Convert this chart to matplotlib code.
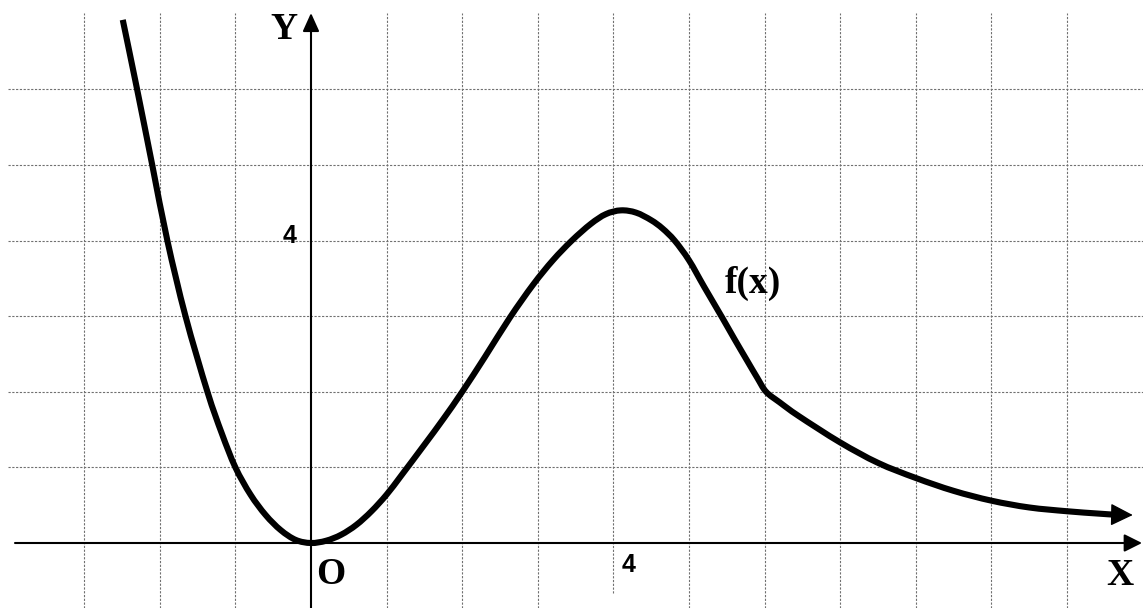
import matplotlib
matplotlib.use('Agg')
import matplotlib.pyplot as plt
from matplotlib.patches import FancyArrowPatch, PathPatch
from matplotlib.path import Path

# ---- data (units of the grid) ----
curve_x = [-2.49, -2.30, -2.10, -1.90, -1.66, -1.37, -1.18, -1.00, -0.80, -0.60,
           -0.40, -0.20, 0.00, 0.20, 0.40, 0.60, 0.80, 1.00, 1.20, 1.50,
           1.75, 2.00, 2.30, 2.63, 2.94, 3.20, 3.45, 3.70, 3.90, 4.10,
           4.30, 4.50, 4.65, 4.81, 5.00, 5.20, 5.44, 5.60, 5.77, 5.90,
           6.02, 6.20, 6.45, 7.00, 7.50, 8.00, 8.50, 9.00, 9.50, 10.00,
           10.40, 10.62, 10.87]
curve_y = [6.92, 6.00, 5.00, 4.00, 3.00, 2.00, 1.45, 1.00, 0.64, 0.37,
           0.17, 0.04, 0.00, 0.03, 0.11, 0.24, 0.42, 0.64, 0.90, 1.30,
           1.64, 2.00, 2.46, 2.98, 3.42, 3.74, 4.00, 4.22, 4.35, 4.40,
           4.37, 4.27, 4.16, 4.00, 3.74, 3.39, 2.98, 2.70, 2.41, 2.19,
           2.00, 1.86, 1.68, 1.33, 1.06, 0.86, 0.69, 0.56, 0.47, 0.42,
           0.39, 0.375, 0.37]
grid_x = [-3, -2, -1, 1, 2, 3, 4, 5, 6, 7, 8, 9, 10]
grid_y = [1, 2, 3, 4, 5, 6]
x_tick_value, x_tick_label = 4, "4"
y_tick_value, y_tick_label = 4, "4"
curve_label = "f(x)"

# ---- figure geometry ----
W, H = 1143, 608
U = 75.6           # pixels per unit
OX, OY = 311, 543  # origin in pixels

fig = plt.figure(figsize=(W / 100, H / 100), dpi=100)
ax = fig.add_axes([0, 0, 1, 1])
xmin, xmax = -OX / U, (W - OX) / U
ymin, ymax = -(H - OY) / U, OY / U
ax.set_xlim(xmin, xmax)
ax.set_ylim(ymin, ymax)
ax.axis('off')

gcol = '#707070'
gls = (0, (2.0, 1.4))
grid_top = (OY - 13) / U
for gx in grid_x:
    bottom = (OY - 593) / U if gx == x_tick_value else ymin
    ax.plot([gx, gx], [bottom, grid_top], color=gcol, lw=0.8, ls=gls, zorder=1)
for gy in grid_y:
    ax.plot([(8 - OX) / U, xmax], [gy, gy], color=gcol, lw=0.8, ls=gls, zorder=1)

# axes with arrows
ax.add_patch(FancyArrowPatch(((15 - OX) / U, 0), ((1142 - OX) / U, 0),
                             arrowstyle='-|>,head_length=0.6,head_width=0.3',
                             mutation_scale=18, lw=1.5, color='black',
                             shrinkA=0, shrinkB=0, zorder=3))
ax.add_patch(FancyArrowPatch((0, ymin), (0, (OY - 13) / U),
                             arrowstyle='-|>,head_length=0.62,head_width=0.28',
                             mutation_scale=18, lw=1.5, color='black',
                             shrinkA=0, shrinkB=0, zorder=3))

# curve: smooth path through the read points (Catmull-Rom -> cubic Bezier)
px, py = curve_x[:-1], curve_y[:-1]
n = len(px)
verts = [(px[0], py[0])]
codes = [Path.MOVETO]
for i in range(n - 1):
    i0, i3 = max(i - 1, 0), min(i + 2, n - 1)
    c1 = (px[i] + (px[i + 1] - px[i0]) / 6, py[i] + (py[i + 1] - py[i0]) / 6)
    c2 = (px[i + 1] - (px[i3] - px[i]) / 6, py[i + 1] - (py[i3] - py[i]) / 6)
    verts += [c1, c2, (px[i + 1], py[i + 1])]
    codes += [Path.CURVE4] * 3
ax.add_patch(PathPatch(Path(verts, codes), facecolor='none', edgecolor='black',
                       lw=4.4, joinstyle='round', capstyle='butt', zorder=4))
ax.add_patch(FancyArrowPatch((curve_x[-2], curve_y[-2]), (curve_x[-1], curve_y[-1]),
                             arrowstyle='-|>,head_length=0.7,head_width=0.35',
                             mutation_scale=20, lw=1, color='black',
                             shrinkA=0, shrinkB=0, zorder=4))

serif = dict(family='Liberation Serif', weight='bold', fontsize=27, color='black')
sans = dict(family='Liberation Sans', weight='bold', fontsize=18, color='black')
ax.text(-0.185, 6.667, 'Y', ha='right', va='baseline', **serif)
ax.text(10.70, -0.556, 'X', ha='center', va='baseline', **serif)
ax.text(0.265, -0.54, 'O', ha='center', va='baseline', **serif)
ax.text(5.47, 3.31, curve_label, ha='left', va='baseline', **serif)
ax.text(-0.278, y_tick_value - 0.03, y_tick_label, ha='center', va='baseline', **sans)
ax.text(x_tick_value + 0.20, -0.384, x_tick_label, ha='center', va='baseline', **sans)

fig.savefig('out.png', dpi=100)
